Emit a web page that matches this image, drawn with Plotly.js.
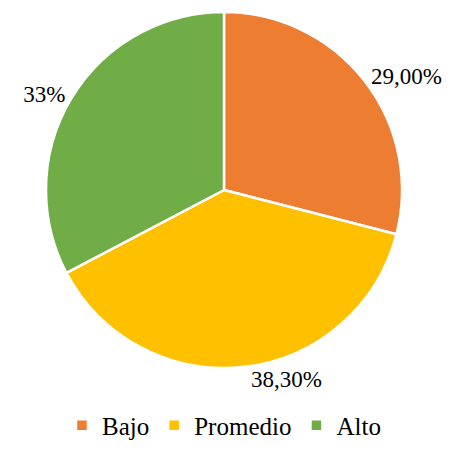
<!DOCTYPE html>
<html>
<head>
<meta charset="utf-8">
<script src="https://cdn.plot.ly/plotly-3.0.1.min.js"></script>
<style>html,body{margin:0;padding:0;background:#fff;}
.main-svg text{fill:#000000 !important;}</style>
</head>
<body>
<div id="chart"></div>
<script>
const categories = ["Bajo", "Promedio", "Alto"];
const values = [29.0, 38.3, 32.7];
const valueLabels = ["29,00%", "38,30%", "33%"];
const colors = ["#ED7D31", "#FFC000", "#70AD47"];

Plotly.newPlot("chart", [{
  type: "pie",
  labels: categories,
  values: values,
  text: valueLabels,
  textinfo: "text",
  textposition: "outside",
  sort: false,
  direction: "clockwise",
  rotation: 0,
  marker: {colors: colors, line: {color: "#ffffff", width: 2.5}},
  textfont: {family: "Liberation Serif", size: 23}
}], {
  width: 455, height: 459,
  margin: {l: 10, r: 17, t: 12, b: 83},
  font: {family: "Liberation Serif", size: 23},
  showlegend: true,
  legend: {
    orientation: "h", x: 0.5, xanchor: "center", y: -0.226, yanchor: "bottom",
    font: {family: "Liberation Serif", size: 25}
  }
}, {staticPlot: true});
</script>
</body>
</html>
